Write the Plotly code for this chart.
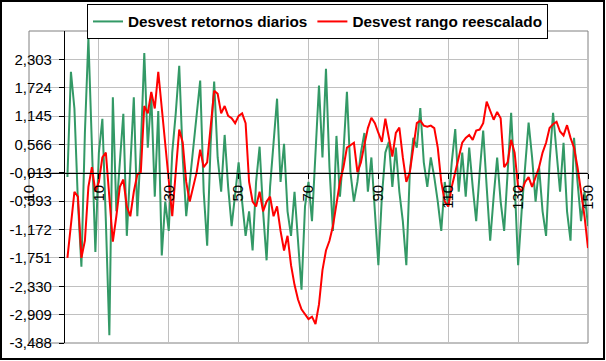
import plotly.graph_objects as go

x_index = list(range(1, 151))

green_values = [
    -0.10, 2.05, 1.30, -0.60, -1.93, 0.80, 2.74, 0.60, -1.63, 0.40,
    1.09, -1.00, -3.33, 1.53, -0.80, 0.20, 1.19, -1.30, 0.00, 1.53,
    -0.90, 0.50, 2.43, 0.50, 1.58, -0.50, 1.25, -1.70, -0.60, -1.20,
    0.40, 1.20, 2.17, 0.30, -0.90, -0.20, 0.50, 1.20, 1.87, -0.40,
    -1.50, 0.60, 1.85, 0.30, -0.40, 0.76, -0.30, -1.10, -0.50, 0.20,
    -0.60, -1.30, -0.80, -1.60, -0.20, 0.52, -0.80, -1.80, -0.30, 0.60,
    1.50, -0.20, 0.58, -0.80, -1.30, -0.40, -1.50, -2.40, -0.70, -0.20,
    -1.00, 0.40, 1.77, 0.30, 2.11, 0.10, -1.20, 0.74, -0.50, 0.40,
    1.64, 0.00, -0.60, -0.20, 0.40, 0.80, -0.40, 0.30, -0.80, -1.90,
    -0.50, 0.40, 0.62, -0.30, 0.50, -0.40, -1.00, -1.90, 0.00, 0.70,
    0.50, 1.31, 0.20, -0.30, 0.30, -0.10, -0.60, -1.20, -0.20, -0.70,
    0.20, 0.88, -0.40, 0.40, -0.50, 0.50, -0.30, -1.00, 0.00, 0.85,
    -0.30, -1.40, -0.50, 0.30, -0.60, -1.20, 0.00, 1.21, -0.20, -1.90,
    -0.80, 0.10, 1.01, 0.30, -0.60, 0.10, -0.80, -1.30, 0.20, 1.21,
    0.40, -0.40, 0.60, -0.80, -1.40, 0.70, -0.20, -1.00, -0.40, -1.10,
]

red_values = [
    -1.75, -1.00, -0.40, -0.50, -1.75, -1.40, -0.30, 0.10, -0.40, -0.20,
    0.30, 0.40, -0.60, -1.42, -0.90, -0.30, -0.15, -0.70, -0.90, -0.40,
    -0.05, 0.00, 1.35, 1.20, 1.64, 1.30, 2.05, 1.30, 0.50, -0.30,
    -0.90, 0.00, 0.87, 0.60, -0.20, -0.60, -0.30, 0.00, 0.46, 0.10,
    0.20, 0.90, 1.66, 1.60, 1.20, 1.35, 1.15, 1.10, 1.00, 1.15,
    1.20, 1.00, -0.20, -0.60, -0.70, -0.40, -0.80, -0.60, -0.50, -0.90,
    -0.70, -1.20, -1.60, -1.30, -1.90, -2.30, -2.60, -2.80, -2.90, -3.00,
    -2.95, -3.10, -2.70, -2.00, -1.60, -1.40, -1.10, -0.60, -0.20, 0.10,
    0.50, 0.55, 0.60, 0.00, 0.20, 0.56, 0.90, 1.11, 1.00, 0.80,
    0.62, 1.09, 0.70, 0.32, 0.80, 0.91, 0.30, -0.20, 0.00, 0.50,
    1.00, 1.05, 0.95, 0.93, 0.95, 0.90, 0.50, -0.20, -0.60, -0.70,
    -0.30, 0.00, 0.30, 0.60, 0.70, 0.76, 0.66, 0.85, 0.87, 1.00,
    1.44, 1.27, 1.07, 1.23, 1.10, 0.10, 0.20, 0.66, 0.40, -0.30,
    -0.40, -0.20, -0.10, -0.30, -0.10, 0.10, 0.40, 0.60, 0.90, 0.98,
    1.03, 0.83, 0.75, 0.96, 0.70, 0.50, 0.10, -0.40, -0.90, -1.55,
]

series_names = ["Desvest retornos diarios", "Desvest rango reescalado"]

xtick_values = [-10, 10, 30, 50, 70, 90, 110, 130, 150]
xtick_labels = ["-10", "10", "30", "50", "70", "90", "110", "130", "150"]

ytick_values = [-3.488, -2.9089, -2.3298, -1.7507, -1.1716, -0.5925, -0.0134,
                0.5657, 1.1448, 1.7239, 2.3030]
ytick_labels = ["-3,488", "-2,909", "-2,330", "-1,751", "-1,172", "-0,593",
                "-0,013", "0,566", "1,145", "1,724", "2,303"]

y_min, y_max = -3.488, 2.8821
x_min, x_max = -10, 150
x_cross = -0.0134   # horizontal axis crosses here
y_cross = 0         # vertical axis crosses here

FONT = "Liberation Sans, Arial, sans-serif"

fig = go.Figure()
fig.add_trace(go.Scatter(x=x_index, y=green_values, mode="lines",
                         name=series_names[0],
                         line=dict(color="#339966", width=2)))
fig.add_trace(go.Scatter(x=x_index, y=red_values, mode="lines",
                         name=series_names[1],
                         line=dict(color="#ff0000", width=2)))

xpos = (x_cross - y_min) / (y_max - y_min)
ypos = (y_cross - x_min) / (x_max - x_min)

W, H = 606, 361
ML, MR, MT, MB = 29, 18, 31, 18
PW, PH = W - ML - MR, H - MT - MB

fig.update_layout(
    width=W, height=H,
    margin=dict(l=ML, r=MR, t=MT, b=MB, pad=0, autoexpand=False),
    paper_bgcolor="white", plot_bgcolor="white",
    font=dict(family=FONT, size=15, color="black"),
    showlegend=True,
    legend=dict(orientation="h", x=(87 - ML) / PW, xanchor="left",
                y=1 + (MT - 4) / PH, yanchor="top",
                bgcolor="white", bordercolor="black", borderwidth=1,
                font=dict(family=FONT, size=15.3, color="black", weight="bold"),
                itemwidth=30, tracegroupgap=0),
    xaxis=dict(range=[x_min, x_max], tickmode="array",
               tickvals=xtick_values, ticktext=xtick_labels,
               tickangle=-90, showgrid=True, gridcolor="#c0c0c0", gridwidth=1,
               zeroline=False, showline=True, linecolor="black", linewidth=1,
               ticks="outside", ticklen=5, tickcolor="black",
               anchor="free", position=xpos,
               tickfont=dict(family=FONT, size=15)),
    yaxis=dict(range=[y_min, y_max], tickmode="array",
               tickvals=ytick_values, ticktext=ytick_labels,
               showgrid=True, gridcolor="#c0c0c0", gridwidth=1,
               zeroline=False, showline=True, linecolor="black", linewidth=1,
               ticks="outside", ticklen=5, tickcolor="black",
               ticklabelstandoff=4,
               anchor="free", position=ypos,
               tickfont=dict(family=FONT, size=15)),
    shapes=[
        dict(type="rect", xref="paper", yref="paper", x0=0, x1=1, y0=0, y1=1,
             line=dict(color="#808080", width=1), layer="below"),
        dict(type="rect", xref="paper", yref="paper",
             x0=(1 - ML) / PW, x1=(604 - ML) / PW,
             y0=(MT + PH - 359) / PH, y1=1 + (MT - 1) / PH,
             line=dict(color="black", width=2)),
    ],
)

fig.write_html("out.html")
